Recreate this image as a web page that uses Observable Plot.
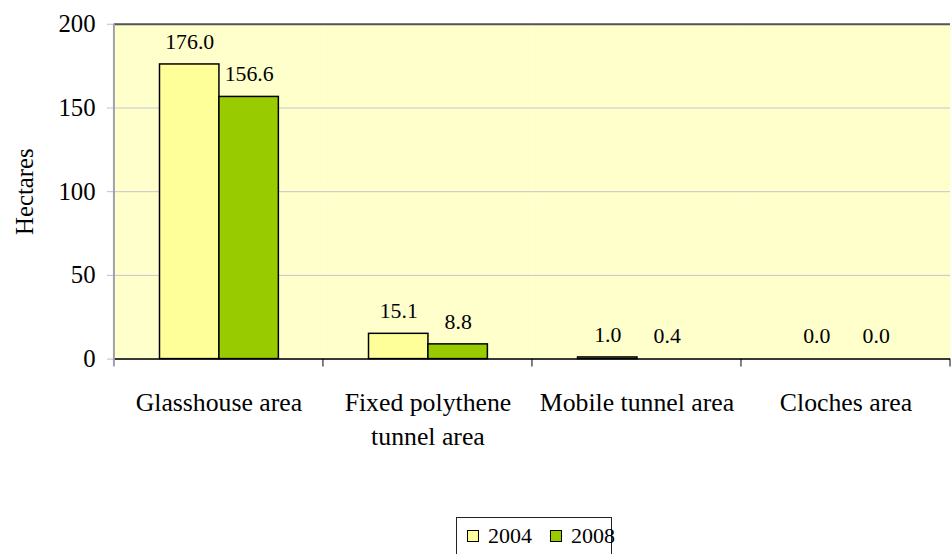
<!DOCTYPE html>
<html>
<head>
<meta charset="utf-8">
<script src="https://cdn.jsdelivr.net/npm/d3@7"></script>
<script src="https://cdn.jsdelivr.net/npm/@observablehq/plot@0.6"></script>
<style>
  body { margin: 0; background: #fff; }
  #wrap { position: relative; width: 951px; height: 554px; overflow: hidden; font-family: "Liberation Serif", "Times New Roman", serif; }
  #wrap svg, #wrap svg text { font-family: "Liberation Serif", "Times New Roman", serif !important; }
  #legend { position: absolute; left: 456px; top: 517px; width: 156px; height: 40px; border: 1px solid #222; box-sizing: border-box; background: #fff; }
  .item { position: absolute; top: 0; height: 36px; display: flex; align-items: center; font-size: 22px; color: #000; }
  .sw { width: 10px; height: 10px; border: 1.5px solid #000; margin-right: 9px; }
</style>
</head>
<body>
<div id="wrap"></div>
<script>
const categories = ["Glasshouse area", "Fixed polythene tunnel area", "Mobile tunnel area", "Cloches area"];
const categoryLabels = ["Glasshouse area", "Fixed polythene\ntunnel area", "Mobile tunnel area", "Cloches area"];
const years = ["2004", "2008"];
const values2004 = [176.0, 15.1, 1.0, 0.0];
const values2008 = [156.6, 8.8, 0.4, 0.0];
const yTicks = [0, 50, 100, 150, 200];
const colors = ["#FFFF99", "#99CC00"];
const yLabel = "Hectares";

const data = [];
categories.forEach((c, i) => {
  data.push({category: c, year: years[0], value: values2004[i]});
  data.push({category: c, year: years[1], value: values2008[i]});
});

const serif = "Liberation Serif";

const chart = Plot.plot({
  width: 960,
  height: 554,
  marginLeft: 114,
  marginRight: 0,
  marginTop: 24,
  marginBottom: 192,
  style: {fontFamily: serif, background: "transparent", color: "#000"},
  fx: {domain: categories, padding: 0, label: null},
  x: {domain: years, paddingInner: 0, paddingOuter: 0.734, axis: null},
  y: {domain: [0, 200], ticks: yTicks},
  color: {domain: years, range: colors},
  marks: [
    Plot.frame({fill: "#FFFFCC", stroke: null}),
    Plot.gridY(yTicks, {stroke: "#c4c4d0", strokeOpacity: 1, strokeWidth: 1}),
    Plot.barY(data.filter(d => d.value >= 1), {fx: "category", x: "year", y: "value", fill: "year", stroke: "#000", strokeWidth: 1.5}),
    Plot.text(data, {fx: "category", x: "year", y: "value", text: d => d.value.toFixed(1), dy: -23, fontSize: 22, fontFamily: serif, fill: "#000"}),
    Plot.ruleY([0], {stroke: "#000", strokeWidth: 1.5}),
    Plot.ruleY([200], {stroke: "#555", strokeWidth: 2}),
    Plot.axisY({ticks: yTicks, tickSize: 7, tickPadding: 12, fontSize: 25, fontFamily: serif, stroke: "#b8b8e8", label: yLabel, labelAnchor: "center", labelArrow: "none", labelOffset: 100}),
    Plot.axisFx({anchor: "bottom", tickSize: 0, tickPadding: 27, fontSize: 26, fontFamily: serif, lineHeight: 1.35, label: null, tickFormat: d => categoryLabels[categories.indexOf(d)]})
  ]
});

document.getElementById("wrap").appendChild(chart);

// category boundary ticks and left axis line, positioned with the library's scales
const fx = chart.scale("fx");
const y = chart.scale("y");
const svg = d3.select(chart);
const y0 = y.apply(0), yTop = y.apply(200);
const bounds = categories.map(c => fx.apply(c));
bounds.push(bounds[bounds.length - 1] + fx.bandwidth);
bounds.slice(1).forEach(bx => {
  svg.append("line").attr("x1", bx).attr("x2", bx).attr("y1", y0).attr("y2", y0 + 8).attr("stroke", "#000").attr("stroke-width", 1);
});
svg.append("line").attr("x1", bounds[0]).attr("x2", bounds[0]).attr("y1", yTop).attr("y2", y0 + 8).attr("stroke", "#a0a0aa").attr("stroke-width", 2);

// legend
const legend = document.createElement("div");
legend.id = "legend";
const lefts = [10, 93];
years.forEach((yr, i) => {
  const it = document.createElement("div");
  it.className = "item";
  it.style.left = lefts[i] + "px";
  const sw = document.createElement("div");
  sw.className = "sw";
  sw.style.background = colors[i];
  const t = document.createElement("span");
  t.textContent = yr;
  it.appendChild(sw); it.appendChild(t);
  legend.appendChild(it);
});
document.getElementById("wrap").appendChild(legend);
</script>
</body>
</html>
